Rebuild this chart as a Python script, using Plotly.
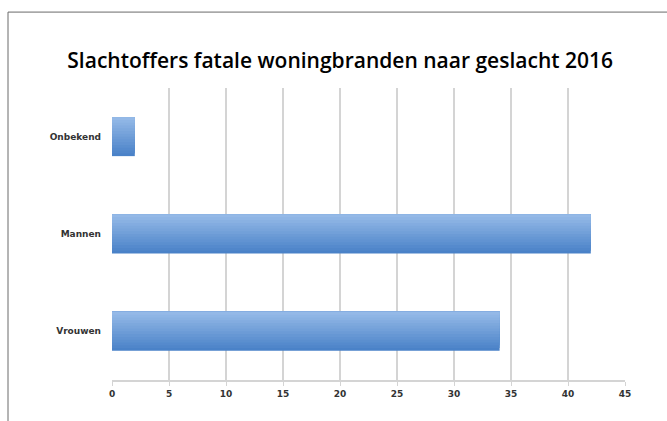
import plotly.graph_objects as go

categories = ['Vrouwen', 'Mannen', 'Onbekend']
victims = [34, 42, 2]
x_ticks = [0, 5, 10, 15, 20, 25, 30, 35, 40, 45]

# fake the vertical gradient of the original bars with nested overlaid bars
BAR_WIDTH = 0.4
N_STRIPS = 14
DARK = (74, 130, 200)
LIGHT = (148, 185, 231)

fig = go.Figure()
strip = BAR_WIDTH / N_STRIPS
for i in range(N_STRIPS):
    t = i / (N_STRIPS - 1)
    rgb = tuple(round(d + (l - d) * t) for d, l in zip(DARK, LIGHT))
    fig.add_trace(
        go.Bar(
            x=victims,
            y=categories,
            orientation='h',
            width=BAR_WIDTH - i * strip,
            offset=-BAR_WIDTH / 2 + i * strip,
            marker=dict(color='rgb(%d,%d,%d)' % rgb, line=dict(width=0)),
            hoverinfo='x+y',
        )
    )

fig.update_layout(
    width=667,
    height=421,
    margin=dict(l=112, r=42, t=88, b=41),
    barmode='overlay',
    paper_bgcolor='white',
    plot_bgcolor='white',
    showlegend=False,
    title=dict(
        text='Slachtoffers fatale woningbranden naar geslacht 2016',
        x=0.51,
        xref='container',
        y=0.857,
        yref='container',
        xanchor='center',
        yanchor='middle',
        font=dict(family='Open Sans', size=21, color='#000000', weight=600),
    ),
    xaxis=dict(
        range=[0, 45],
        tickvals=x_ticks,
        showgrid=True,
        gridcolor='#d4d4d4',
        gridwidth=1.5,
        showline=True,
        linecolor='#d4d4d4',
        linewidth=1.5,
        ticks='outside',
        ticklen=4,
        tickcolor='#d4d4d4',
        zeroline=False,
        tickfont=dict(family='DejaVu Sans', size=9, color='#333333', weight='bold'),
    ),
    yaxis=dict(
        showgrid=False,
        zeroline=False,
        ticks='',
        ticklabelstandoff=10,
        tickfont=dict(family='DejaVu Sans', size=9, color='#333333', weight='bold'),
    ),
    shapes=[
        dict(
            type='rect',
            xref='paper',
            yref='paper',
            x0=-0.2027,
            x1=1.3,
            y0=-0.3,
            y1=1.26,
            line=dict(color='#6a6a6a', width=1),
            fillcolor='rgba(0,0,0,0)',
            layer='below',
        )
    ],
)

fig.write_html(
    'out.html',
    config={'displayModeBar': False},
    post_script="document.body.style.margin='0';",
)
